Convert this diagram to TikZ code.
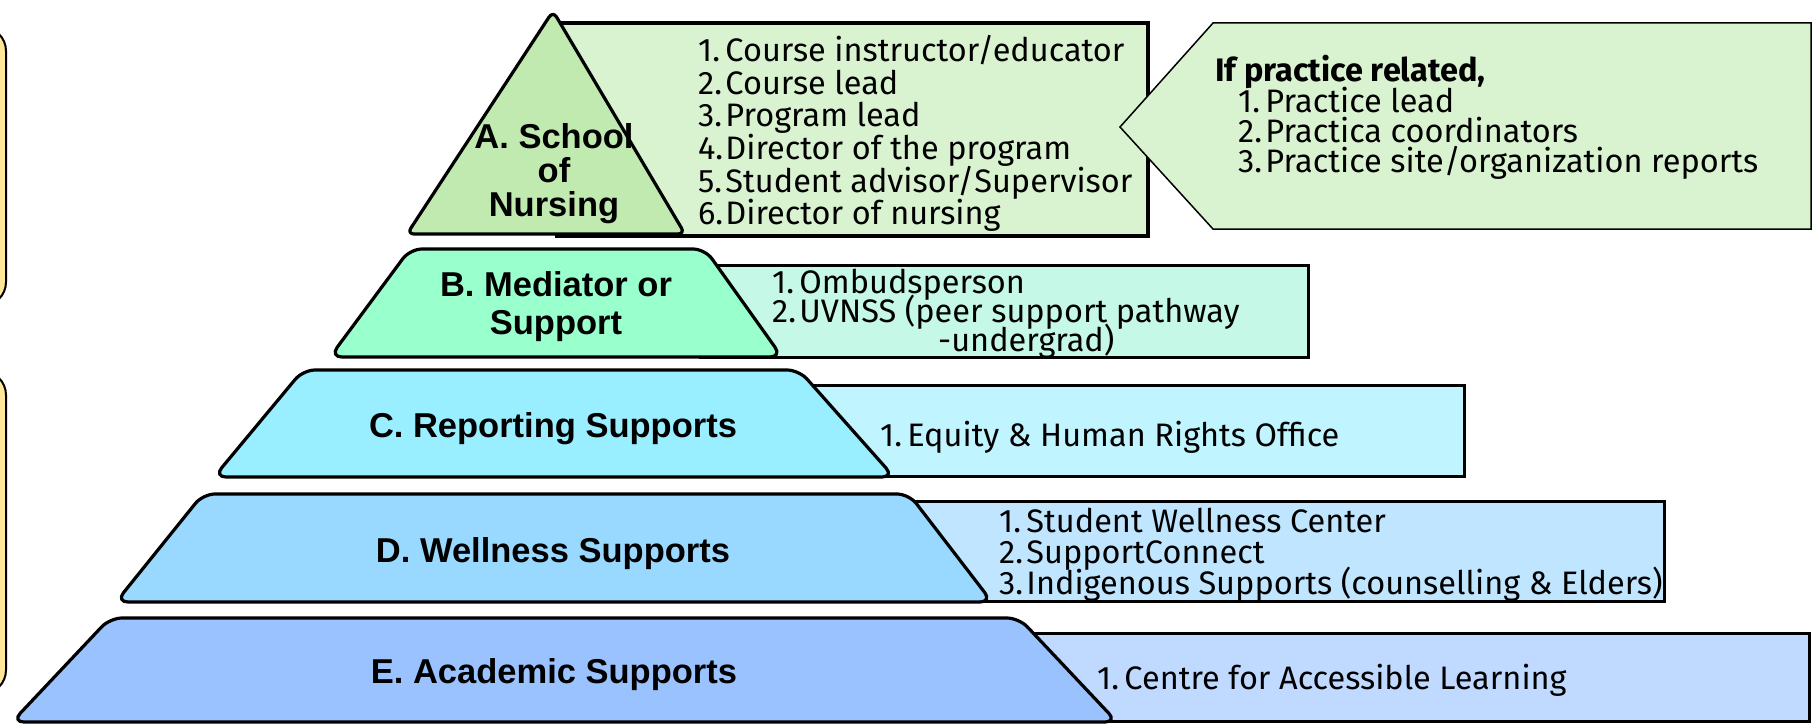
\documentclass[tikz,border=0pt]{standalone}
\usepackage{fontspec}
\newfontfamily\labfont{Liberation Sans}
\newfontfamily\lstfont{Fira Sans}
\definecolor{yel}{RGB}{255,230,153}
\definecolor{triA}{RGB}{192,234,176}
\definecolor{lstA}{RGB}{217,242,208}
\definecolor{trB}{RGB}{153,255,204}
\definecolor{lsB}{RGB}{197,248,230}
\definecolor{trC}{RGB}{153,238,255}
\definecolor{lsC}{RGB}{192,244,255}
\definecolor{trD}{RGB}{153,217,255}
\definecolor{lsD}{RGB}{192,230,255}
\definecolor{trE}{RGB}{153,194,255}
\definecolor{lsE}{RGB}{192,218,255}
\newcommand\itm[2]{\makebox[0.84em][l]{#1}#2}
\newcommand\tightls{\lineskiplimit=-100bp\relax}
\tikzset{
  tier/.style={draw=black, line width=3.2bp, rounded corners=12bp, line join=round},
  listbox/.style={draw=black, line width=3bp},
  sidebox/.style={draw=black, line width=2bp, fill=yel, rounded corners=24bp},
  lab/.style={font=\labfont\bfseries\fontsize{34.5bp}{#1}\selectfont\tightls, align=center, text=black, inner sep=0pt},
  lab/.default=34bp,
  lst/.style={font=\lstfont\fontsize{32.5bp}{#1}\selectfont\tightls, align=left, anchor=west, inner sep=0pt, text=black},
  lst/.default=32.6bp,
}
\begin{document}
\begin{tikzpicture}[x=1bp,y=-1bp]
\useasboundingbox (0,0) rectangle (1815,725);
% side boxes
\draw[sidebox] (-60,27) rectangle (6,306);
\draw[sidebox] (-60,371) rectangle (6,694);
% list boxes (behind)
\draw[listbox, fill=lstA, line width=3.5bp] (557,23) rectangle (1148,236);
\draw[listbox, fill=lsB] (700,265) rectangle (1308,357);
\draw[listbox, fill=lsC] (790,385) rectangle (1464,476);
\draw[listbox, fill=lsD] (900,501) rectangle (1664,601);
\draw[listbox, fill=lsE] (1010,633) rectangle (1809,721);
% callout
\draw[fill=lstA, draw=black, line width=1.5bp] (1120,127) -- (1213,23) -- (1811,23) -- (1811,229) -- (1213,229) -- cycle;
% tiers
\draw[tier, fill=triA, rounded corners=7bp] (553,11) -- (685,234) -- (407,234) -- cycle;
\draw[tier, fill=trB] (330,357) -- (410,249) -- (705,249) -- (782,357) -- cycle;
\draw[tier, fill=trC] (214,477) -- (303,370) -- (799,370) -- (894,477) -- cycle;
\draw[tier, fill=trD] (116,602) -- (203,494) -- (909,494) -- (992,602) -- cycle;
\draw[tier, fill=trE] (12,722) -- (110,618) -- (1019,618) -- (1117,722) -- cycle;
% labels
\node[lab] (ta) at (554,173.5) {A. School\\of\\Nursing};
\node[lab=38bp] (tb) at (556,306.5) {B. Mediator or\\Support};
\node[lab] (tc) at (553,428.5) {C. Reporting Supports};
\node[lab] (td) at (553,554) {D. Wellness Supports};
\node[lab] (te) at (554,674.5) {E. Academic Supports};
% lists
\node[lst] (la) at (698,133.5) {\itm{1.}{Course instructor/educator}\\\itm{2.}{Course lead}\\\itm{3.}{Program lead}\\\itm{4.}{Director of the program}\\\itm{5.}{Student advisor/Supervisor}\\\itm{6.}{Director of nursing}};
\node[lst=30.4bp] (lc) at (1215,117.5) {\textbf{If practice related,}\\\hspace*{23bp}\itm{1.}{Practice lead}\\\hspace*{23bp}\itm{2.}{Practica coordinators}\\\hspace*{23bp}\itm{3.}{Practice site/organization reports}};
\node[lst=29bp] (lb) at (772,314) {\itm{1.}{Ombudsperson}\\\itm{2.}{UVNSS (peer support pathway}\\\hspace*{166bp}-undergrad)};
\node[lst] (lcc) at (880,437) {\itm{1.}{Equity \& Human Rights Office}};
\node[lst=31bp] (ld) at (999,555) {\itm{1.}{Student Wellness Center}\\\itm{2.}{SupportConnect}\\\itm{3.}{Indigenous Supports (counselling \& Elders)}};
\node[lst] (le) at (1097,680) {\itm{1.}{Centre for Accessible Learning}};
\end{tikzpicture}
\end{document}
